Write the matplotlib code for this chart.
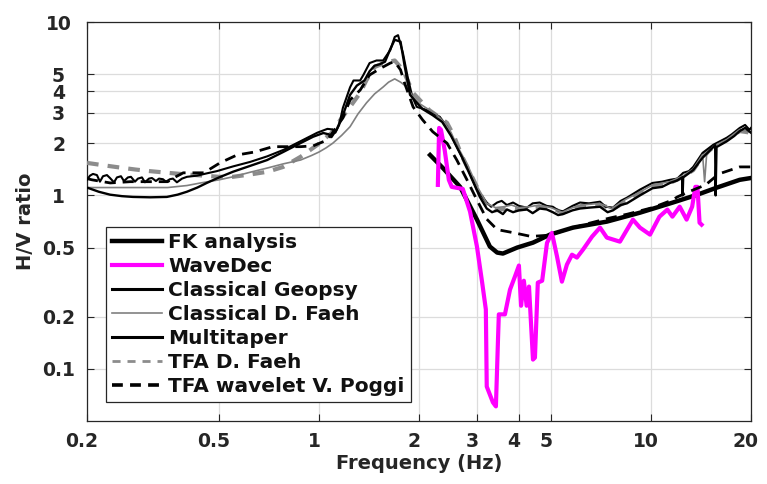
import matplotlib
matplotlib.use("Agg")
import matplotlib.pyplot as plt
import matplotlib.transforms as mtransforms
from matplotlib.ticker import FixedLocator, NullLocator, FixedFormatter

# ---------------- data ----------------
fk_f = [2.16, 2.36, 2.66, 2.99, 3.27, 3.44, 3.58, 3.95, 4.41, 4.96, 5.82, 7.36, 9.26, 11.6, 13.8, 15.8, 18.5, 20.0]
fk_v = [1.71, 1.44, 1.12, 0.725, 0.507, 0.468, 0.462, 0.50, 0.534, 0.594, 0.652, 0.706, 0.795, 0.908, 1.01, 1.11, 1.23, 1.26]

wd_f = [2.28, 2.30, 2.33, 2.39, 2.46, 2.51, 2.71, 2.85, 2.99, 3.10, 3.18, 3.20, 3.34, 3.41, 3.46, 3.48,
        3.63, 3.76, 3.89, 4.00, 4.06, 4.14, 4.22, 4.29, 4.41, 4.47, 4.56, 4.70, 4.86, 5.03, 5.21, 5.39,
        5.58, 5.78, 5.98, 6.24, 6.64, 7.02, 7.36, 8.06, 8.82, 9.26, 9.93, 10.6, 11.2, 11.6, 12.2, 12.8,
        13.3, 13.6, 13.8, 14.0, 14.2]
wd_v = [1.15, 2.45, 2.39, 1.83, 1.23, 1.12, 1.09, 0.806, 0.507, 0.314, 0.22, 0.079, 0.064, 0.0607, 0.148, 0.206,
        0.206, 0.286, 0.34, 0.394, 0.231, 0.322, 0.231, 0.298, 0.113, 0.116, 0.314, 0.322, 0.532, 0.608, 0.444, 0.318,
        0.399, 0.455, 0.438, 0.487, 0.578, 0.652, 0.571, 0.541, 0.725, 0.652, 0.594, 0.754, 0.828, 0.754, 0.861, 0.725,
        0.861, 1.12, 1.12, 0.696, 0.678]

geo_f = [0.200, 0.2042, 0.2085, 0.2143, 0.2188, 0.2235, 0.2297, 0.2346, 0.2412, 0.2462, 0.2531, 0.2585, 0.2657,
         0.2713, 0.2790, 0.2848, 0.2928, 0.2990, 0.3074, 0.3139, 0.3226, 0.3295, 0.3387, 0.3458, 0.3555, 0.3630,
         0.3732, 0.3866, 0.4002, 0.429, 0.459, 0.492, 0.551, 0.620, 0.698, 0.781, 0.878, 0.988, 1.06, 1.10, 1.12,
         1.15, 1.18, 1.24, 1.27, 1.33, 1.36, 1.42, 1.49, 1.56, 1.64, 1.69, 1.73, 1.79, 1.85, 1.91, 1.97, 2.11, 2.31,
         2.43, 2.60, 2.79, 2.99, 3.20, 3.30, 3.44, 3.55, 3.68, 3.84, 4.0, 4.23, 4.40, 4.62, 4.85, 5.06, 5.25, 5.43,
         5.8, 6.11, 6.5, 7.02, 7.3, 7.68, 8.1, 8.46, 9.26, 10.1, 10.8, 11.4, 12.0, 12.5, 13.0, 13.4, 14.3, 15.4,
         16.9, 17.5, 18.5, 19.2, 19.8, 20.0]
geo_v = [1.23, 1.30, 1.33, 1.31, 1.20, 1.29, 1.31, 1.26, 1.19, 1.27, 1.29, 1.21, 1.27,
         1.28, 1.20, 1.25, 1.27, 1.19, 1.25, 1.26, 1.21, 1.25, 1.24, 1.20, 1.24, 1.25,
         1.19, 1.25, 1.28, 1.30, 1.34, 1.38, 1.47, 1.56, 1.68, 1.83, 2.05, 2.30, 2.42, 2.40, 2.30,
         2.55, 3.2, 4.2, 4.6, 4.6, 4.95, 5.8, 6.0, 6.0, 6.9, 8.2, 8.4, 6.6, 4.8, 3.7, 3.24, 3.11, 2.84,
         2.49, 1.91, 1.46, 1.08, 0.91, 0.86, 0.91, 0.93, 0.88, 0.91, 0.87, 0.85, 0.90, 0.91, 0.87, 0.86, 0.82, 0.81,
         0.87, 0.91, 0.90, 0.92, 0.86, 0.85, 0.93, 0.97, 1.08, 1.18, 1.20, 1.23, 1.25, 1.35, 1.38, 1.46, 1.76, 1.96,
         2.15, 2.25, 2.45, 2.55, 2.39, 2.45]

cfa_f = [0.200, 0.25, 0.30, 0.35, 0.40, 0.44, 0.50, 0.55, 0.62, 0.70, 0.78, 0.88, 0.95, 1.0, 1.05, 1.10, 1.17,
         1.24, 1.31, 1.39, 1.47, 1.56, 1.62, 1.69, 1.76, 1.84, 1.92, 2.0, 2.1, 2.25, 2.4, 2.5, 2.6, 2.8, 3.0,
         3.2, 3.4, 3.6, 3.8, 4.0, 4.3, 4.6, 5.0, 5.4, 5.8, 6.2, 7.0, 7.6, 8.4, 9.3, 10.1, 11.4, 12.5, 13.4,
         14.3, 14.5, 14.7, 15.4, 16.9, 18.5, 20.0]
cfa_v = [1.11, 1.11, 1.11, 1.11, 1.14, 1.18, 1.23, 1.28, 1.36, 1.44, 1.52, 1.60, 1.70, 1.78, 1.88, 2.0, 2.22,
         2.49, 2.95, 3.42, 3.85, 4.22, 4.5, 4.7, 4.5, 4.22, 3.7, 3.4, 3.2, 2.95, 2.6, 2.3, 1.95, 1.5, 1.12,
         0.90, 0.85, 0.86, 0.88, 0.85, 0.86, 0.88, 0.85, 0.80, 0.85, 0.88, 0.90, 0.84, 0.95, 1.05, 1.15, 1.20, 1.30, 1.42,
         1.72, 1.2, 1.7, 1.92, 2.1, 2.4, 2.3]

mt_f = [0.200, 0.217, 0.2346, 0.255, 0.2751, 0.31, 0.348, 0.375, 0.400, 0.43, 0.459, 0.50, 0.551, 0.62, 0.698,
        0.78, 0.878, 0.96, 1.03, 1.07, 1.09, 1.13, 1.18, 1.24, 1.30, 1.37, 1.42, 1.47, 1.52, 1.58, 1.64, 1.69,
        1.76, 1.81, 1.88, 1.95, 2.05, 2.2, 2.35, 2.5, 2.7, 2.9, 3.05, 3.2, 3.32, 3.44, 3.58, 3.68, 3.84, 4.0,
        4.23, 4.4, 4.62, 4.85, 5.06, 5.25, 5.43, 5.8, 6.11, 6.5, 7.02, 7.4, 7.68, 8.1, 8.46, 9.26, 10.1, 10.8,
        11.4, 12.0, 12.4, 12.45, 12.5, 13.4, 14.3, 15.4, 15.6, 15.65, 15.75, 16.9, 17.8, 18.5, 19.2, 20.0]
mt_v = [1.11, 1.05, 1.01, 0.99, 0.98, 0.975, 0.98, 1.01, 1.05, 1.11, 1.18, 1.27, 1.37, 1.48, 1.60,
        1.78, 2.0, 2.18, 2.29, 2.25, 2.17, 2.4, 2.9, 3.8, 4.3, 4.6, 5.2, 5.6, 5.7, 5.9, 7.0, 7.9,
        7.7, 5.6, 3.8, 3.5, 3.15, 2.9, 2.65, 2.2, 1.65, 1.22, 0.98, 0.84, 0.80, 0.82, 0.78, 0.83, 0.80, 0.82,
        0.83, 0.79, 0.84, 0.83, 0.80, 0.77, 0.78, 0.82, 0.84, 0.85, 0.86, 0.80, 0.82, 0.88, 0.90, 1.0, 1.10, 1.12,
        1.18, 1.22, 1.27, 1.0, 1.27, 1.40, 1.65, 1.9, 1.95, 1.0, 1.9, 2.05, 2.2, 2.35, 2.45, 2.3]

tfa_f = [0.200, 0.22, 0.25, 0.28, 0.31, 0.35, 0.40, 0.45, 0.50, 0.55, 0.62, 0.70, 0.78, 0.88, 0.99, 1.09,
         1.16, 1.24, 1.33, 1.39, 1.47, 1.57, 1.69, 1.79, 1.92, 2.15, 2.43, 2.55, 2.7, 2.99, 3.2, 3.4, 3.7,
         4.0, 4.3, 4.7, 5.1, 5.4, 5.8, 6.3, 7.0, 7.7, 8.5, 9.3, 10.1, 11.4, 12.5, 13.4, 14.3, 15.4, 16.9,
         18.5, 20.0]
tfa_v = [1.54, 1.50, 1.45, 1.41, 1.38, 1.35, 1.32, 1.30, 1.28, 1.28, 1.32, 1.37, 1.46, 1.67, 1.96, 2.29,
         2.73, 3.24, 3.9, 4.63, 5.5, 5.8, 6.0, 5.3, 3.9, 3.1, 2.62, 2.2, 1.67, 1.12, 0.86, 0.82, 0.84,
         0.83, 0.84, 0.86, 0.84, 0.79, 0.84, 0.88, 0.88, 0.84, 0.93, 1.04, 1.12, 1.18, 1.28, 1.4, 1.68, 1.9, 2.1,
         2.35, 2.3]

pog_f = [0.200, 0.207, 0.235, 0.27, 0.31, 0.35, 0.37, 0.39, 0.45, 0.503, 0.566, 0.64, 0.725, 0.878, 0.96,
         1.06, 1.18, 1.24, 1.33, 1.42, 1.53, 1.64, 1.69, 1.76, 1.81, 1.92, 2.05, 2.2, 2.43, 2.6, 2.79, 2.99,
         3.2, 3.44, 3.84, 4.35, 4.96, 5.5, 6.5, 7.5, 8.5, 10.1, 11.6, 12.0, 13.0, 14.6, 16.0, 18.5, 20.0]
pog_v = [1.25, 1.23, 1.18, 1.20, 1.20, 1.20, 1.28, 1.35, 1.35, 1.54, 1.71, 1.78, 1.91, 1.91, 1.93,
         2.09, 2.8, 3.55, 4.05, 4.95, 5.4, 5.8, 5.9, 5.3, 4.45, 3.24, 2.73, 2.33, 2.0, 1.6, 1.23, 0.94,
         0.73, 0.635, 0.61, 0.58, 0.59, 0.63, 0.69, 0.74, 0.78, 0.85, 0.94, 0.98, 1.05, 1.15, 1.33, 1.46, 1.46]

labels = ["FK analysis", "WaveDec", "Classical Geopsy", "Classical D. Faeh",
          "Multitaper", "TFA D. Faeh", "TFA wavelet V. Poggi"]
x_ticks = [0.2, 0.5, 1, 2, 3, 4, 5, 10, 20]
x_tick_labels = ["0.2", "0.5", "1", "2", "3", "4", "5", "10", "20"]
y_ticks = [0.1, 0.2, 0.5, 1, 2, 3, 4, 5, 10]
y_tick_labels = ["0.1", "0.2", "0.5", "1", "2", "3", "4", "5", "10"]

# ---------------- plot ----------------
plt.rcParams['font.family'] = ['DejaVu Sans']
plt.rcParams['font.weight'] = 'bold'
txt = '#262626'

fig = plt.figure(figsize=(7.67, 4.84), dpi=100)
ax = fig.add_axes([0.1134, 0.1302, 0.8657, 0.8243])

ax.plot(fk_f, fk_v, color='black', lw=3.2, label=labels[0], zorder=3)
ax.plot(wd_f, wd_v, color='#ff00ff', lw=3.0, label=labels[1], zorder=4)
ax.plot(geo_f, geo_v, color='black', lw=1.5, label=labels[2], zorder=5)
ax.plot(cfa_f, cfa_v, color='#808080', lw=1.2, label=labels[3], zorder=5)
ax.plot(mt_f, mt_v, color='black', lw=1.7, label=labels[4], zorder=5)
ax.plot(tfa_f, tfa_v, color='#8c8c8c', lw=3.0, ls=(0, (2.8, 2.2)), label=labels[5], zorder=4)
ax.plot(pog_f, pog_v, color='black', lw=2.0, ls=(0, (4, 2.5)), label=labels[6], zorder=5)

ax.set_xscale('log')
ax.set_yscale('log')
ax.set_xlim(0.2, 20)
ax.set_ylim(0.05, 10)

ax.xaxis.set_major_locator(FixedLocator(x_ticks))
ax.xaxis.set_major_formatter(FixedFormatter(x_tick_labels))
ax.yaxis.set_major_locator(FixedLocator(y_ticks))
ax.yaxis.set_major_formatter(FixedFormatter(y_tick_labels))
ax.xaxis.set_minor_locator(NullLocator())
ax.yaxis.set_minor_locator(NullLocator())

ax.tick_params(axis='both', which='major', direction='in', length=5, width=0.8,
               colors=txt, labelsize=13.5, top=True, right=True)
ax.tick_params(axis='x', pad=8)
ax.tick_params(axis='y', pad=20.5)
shift = mtransforms.ScaledTranslation(-5 / 100, 0, fig.dpi_scale_trans)
for lab in ax.get_xticklabels():
    lab.set_fontweight('bold')
    lab.set_transform(lab.get_transform() + shift)
for lab in ax.get_yticklabels():
    lab.set_fontweight('bold')
    lab.set_horizontalalignment('center')

ax.grid(True, which='major', color='#dcdcdc', lw=0.9)
ax.set_axisbelow(True)
for s in ax.spines.values():
    s.set_color('#262626')
    s.set_linewidth(0.9)

ax.set_xlabel("Frequency (Hz)", fontsize=14, fontweight='bold', color=txt, labelpad=2)
ax.set_ylabel("H/V ratio", fontsize=14, fontweight='bold', color=txt)
ax.yaxis.set_label_coords(-0.078, 0.5)

leg = ax.legend(loc='lower left', bbox_to_anchor=(0.0286, 0.0476), borderaxespad=0,
                fontsize=14.5, handlelength=2.5, handletextpad=0.3, labelspacing=0.25,
                frameon=True, fancybox=False, borderpad=0.3, framealpha=1)
leg.get_frame().set_edgecolor('#262626')
leg.get_frame().set_linewidth(0.9)
for t in leg.get_texts():
    t.set_fontweight('bold')
    t.set_color('#111111')
handles = leg.legend_handles
handles[2].set_linewidth(2.2)
handles[4].set_linewidth(2.2)
handles[5].set_linewidth(2.0)
handles[5].set_linestyle((0, (2.9, 2.5)))
handles[6].set_linewidth(2.6)
handles[6].set_linestyle((0, (3.0, 2.0)))

fig.savefig('out.png', dpi=100)
